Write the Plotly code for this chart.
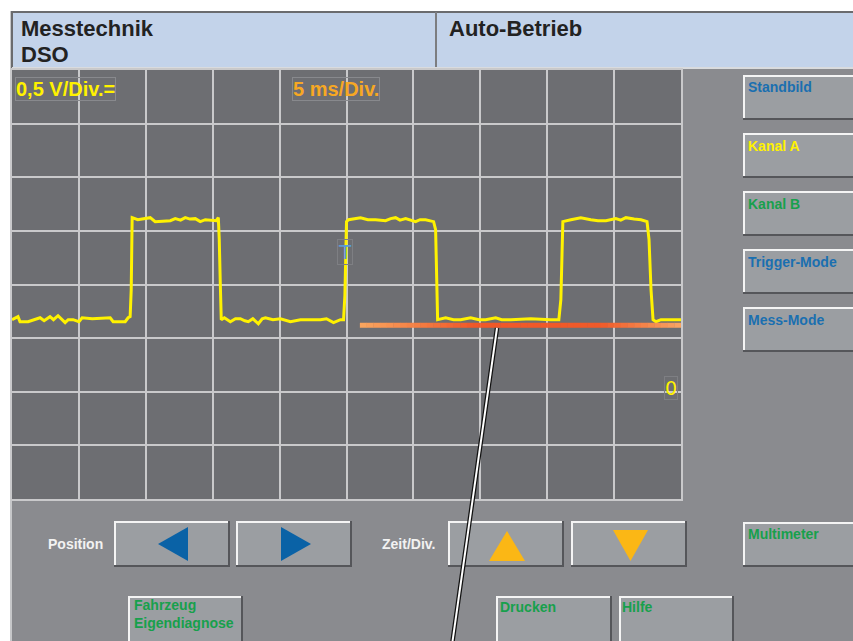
"""DSO screen (Messtechnik / Auto-Betrieb) rebuilt with Plotly."""
import plotly.graph_objects as go

W, H = 853, 641

# Kanal A: time in ms, voltage in V
time_ms = [
    0.00, 0.45, 0.60, 1.20, 2.10, 2.40, 2.84, 3.10, 3.44, 3.70, 3.97, 4.20, 4.57,
    5.00, 5.24, 6.00, 7.34, 7.56, 8.46, 8.68, 8.83, 8.91, 8.98, 9.40, 9.81, 10.33,
    10.70, 11.30, 11.83, 12.20, 12.60, 12.95, 13.30, 13.70, 14.07, 14.45, 14.90,
    15.27, 15.42, 15.49, 15.57, 15.64, 15.87, 16.32, 16.70, 17.07, 17.40, 17.66,
    18.00, 18.41, 18.70, 18.94, 19.50, 20.06, 20.81, 21.56, 23.05, 23.50, 24.03,
    24.55, 24.78, 24.88, 25.00, 25.15, 26.05, 26.60, 27.17, 27.92, 28.30, 28.67,
    29.00, 29.42, 30.16, 30.50, 30.91, 31.51, 31.66, 31.74, 31.81, 32.41, 33.00,
    33.53, 34.28, 34.90, 35.40, 36.15, 36.60, 37.28, 38.77, 40.27, 40.87, 41.02,
    41.17, 41.77, 42.51, 43.26, 43.80, 44.39, 45.13, 45.50, 45.88, 46.50, 47.01,
    47.46, 47.61, 47.76, 47.91, 48.13, 48.50, 50.00,
]
kanal_a_v = [
    0.672, 0.700, 0.653, 0.653, 0.690, 0.662, 0.700, 0.672, 0.709, 0.672, 0.644, 0.672, 0.672,
    0.653, 0.690, 0.681, 0.690, 0.653, 0.653, 0.690, 0.700, 0.951, 1.623, 1.604, 1.614, 1.623,
    1.586, 1.590, 1.595, 1.614, 1.600, 1.623, 1.610, 1.614, 1.586, 1.604, 1.600,
    1.595, 1.623, 1.418, 0.998, 0.672, 0.690, 0.653, 0.681, 0.681, 0.662, 0.653,
    0.681, 0.634, 0.681, 0.690, 0.672, 0.681, 0.653, 0.672, 0.672, 0.681, 0.644,
    0.672, 0.672, 0.900, 1.586, 1.604, 1.623, 1.604, 1.604, 1.595, 1.614, 1.623,
    1.600, 1.614, 1.586, 1.604, 1.604, 1.586, 1.511, 0.998, 0.672, 0.690, 0.672,
    0.672, 0.690, 0.672, 0.672, 0.690, 0.672, 0.672, 0.681, 0.672, 0.672, 0.858,
    1.586, 1.604, 1.623, 1.604, 1.595, 1.595, 1.614, 1.600, 1.623, 1.610, 1.604,
    1.586, 1.418, 0.951, 0.672, 0.653, 0.672, 0.672,
]

x_range_ms = [0, 50]
y_range_v = [-1.0, 3.0]
ms_per_div = 5
v_per_div = 0.5

trigger_level_v = 0.62
trigger_from_ms = 26.0
trigger_mark_ms, trigger_mark_v = 25.0, 1.30

header_left = ["Messtechnik", "DSO"]
header_right = "Auto-Betrieb"
volt_label = "0,5 V/Div.="
time_label = "5 ms/Div."
side_buttons = ["Standbild", "Kanal A", "Kanal B", "Trigger-Mode", "Mess-Mode"]

FONT = "Liberation Sans, Arial, sans-serif"
BODY = "#8a8b8f"
SCREEN = "#6d6e72"
GRID = "#c9c9cb"
BTN = "#9b9ea2"
HEADER = "#c3d3ea"
BLUE = "#1a6fb0"
GREEN = "#17a04c"
YELLOW = "#fff200"
ORANGE = "#f7a823"
side_colors = [BLUE, YELLOW, GREEN, BLUE, BLUE]


# window pixels -> paper fractions
def X(px):
    return px / W


def Y(py):
    return 1 - py / H


shapes = []
annotations = []


def rect(x0, y0, x1, y1, fill, layer="below"):
    shapes.append(dict(type="rect", xref="paper", yref="paper", x0=X(x0), x1=X(x1),
                       y0=Y(y1), y1=Y(y0), fillcolor=fill, line=dict(width=0), layer=layer))


def seg(x0, y0, x1, y1, color, width, layer="below"):
    shapes.append(dict(type="line", xref="paper", yref="paper", x0=X(x0), y0=Y(y0),
                       x1=X(x1), y1=Y(y1), line=dict(color=color, width=width), layer=layer))


def button(x0, y0, x1, y1):
    rect(x0, y0, x1, y1, BTN)
    seg(x0, y0 + 1, x1, y0 + 1, "#f4f4f4", 2)
    seg(x0 + 1, y0, x0 + 1, y1, "#f4f4f4", 2)
    seg(x0, y1 - 1, x1, y1 - 1, "#55565a", 2)
    seg(x1 - 1, y0, x1 - 1, y1, "#55565a", 2)


def tri(points, color):
    path = "M " + " L ".join(f"{X(a):.5f},{Y(b):.5f}" for a, b in points) + " Z"
    shapes.append(dict(type="path", xref="paper", yref="paper", path=path,
                       fillcolor=color, line=dict(width=0), layer="below"))


def text(x, y, s, color, size, bold=True, box=None, family=FONT):
    annotations.append(dict(
        xref="paper", yref="paper", x=X(x), y=Y(y), text=f"<b>{s}</b>" if bold else s,
        showarrow=False, xanchor="left", yanchor="middle", align="left",
        font=dict(family=family, size=size, color=color),
        bordercolor=box or "rgba(0,0,0,0)", borderwidth=1, borderpad=0,
    ))


# page frame and header
rect(0, 0, W, 11, "white")
rect(0, 0, 10, H, "white")
seg(11, 11, 11, H, "#c6c7c9", 2)
rect(12, 12, W, 68, HEADER)
seg(11, 12, W, 12, "#6a6b6e", 2)
seg(12, 12, 12, 68, "#6a6b6e", 2)
seg(436, 12, 436, 68, "#7c7d80", 2)
seg(12, 68, W, 68, "#d9dbde", 2)
text(20, 28.5, header_left[0], "#222222", 22)
text(20, 54.5, header_left[1], "#222222", 22)
text(448, 28.5, header_right, "#222222", 22)

# right-hand buttons
for i, (name, col) in enumerate(zip(side_buttons, side_colors)):
    top = 75 + i * 58
    button(743, top, 856, top + 45)
    text(747, top + 12.5, name, col, 14)
button(743, 522, 856, 567)
text(747, 534, "Multimeter", GREEN, 14)

# position / time buttons
text(47, 543.5, "Position", "#f2f2f2", 14)
button(114, 521, 230, 567)
button(236, 521, 352, 567)
tri([(158, 544), (188, 527), (188, 561)], "#0a62a6")
tri([(311, 544), (281, 527), (281, 561)], "#0a62a6")
text(381, 543.5, "Zeit/Div.", "#f2f2f2", 14)
button(448, 521, 564, 567)
button(571, 521, 687, 567)
tri([(507, 531), (489, 561), (525, 561)], "#fbb715")
tri([(613, 530), (648, 530), (630.5, 561)], "#fbb715")

# bottom row
button(128, 596, 243, 645)
text(133, 614, "Fahrzeug<br>Eigendiagnose", GREEN, 14)
button(496, 596, 612, 645)
text(499, 606.5, "Drucken", GREEN, 14)
button(619, 596, 734, 645)
text(621, 606.5, "Hilfe", GREEN, 14)

# scale readouts on the screen
text(15, 89, volt_label, YELLOW, 20, box="#88898d")
text(292, 89, time_label, ORANGE, 20, box="#88898d")

# trigger level bar with an orange gradient
stops = [(0.0, (248, 166, 96)), (0.35, (240, 88, 40)), (0.75, (240, 90, 42)), (1.0, (248, 166, 100))]


def grad(f):
    for (f0, c0), (f1, c1) in zip(stops, stops[1:]):
        if f <= f1:
            k = (f - f0) / (f1 - f0)
            return "rgb({},{},{})".format(*[round(a + (b - a) * k) for a, b in zip(c0, c1)])
    return "rgb({},{},{})".format(*stops[-1][1])


n_seg = 48
span = x_range_ms[1] - trigger_from_ms
for i in range(n_seg):
    t0 = trigger_from_ms + span * i / n_seg
    t1 = trigger_from_ms + span * (i + 1.05) / n_seg
    shapes.append(dict(type="line", xref="x", yref="y", x0=t0, x1=min(t1, x_range_ms[1]),
                       y0=trigger_level_v, y1=trigger_level_v,
                       line=dict(color=grad((i + 0.5) / n_seg), width=5), layer="above"))

# callout pointer
seg(497, 328, 452, 645, "#111111", 4.5, layer="above")
seg(497, 328, 452, 645, "#ffffff", 2, layer="above")

# trigger "T" and ground "0" markers
annotations.append(dict(xref="x", yref="y", x=trigger_mark_ms, y=trigger_mark_v, text="T",
                        showarrow=False, xanchor="center", yanchor="middle", xshift=-2,
                        font=dict(family="DejaVu Sans", size=20, color="#5b9bd5"),
                        bordercolor="#7e7f83", borderwidth=1, borderpad=0))
annotations.append(dict(xref="x", yref="y", x=x_range_ms[1], y=0, text="0",
                        showarrow=False, xanchor="right", yanchor="middle", xshift=-3, yshift=4,
                        font=dict(family="DejaVu Sans", size=19, color=YELLOW),
                        bordercolor="#7e7f83", borderwidth=1, borderpad=0))

fig = go.Figure()
fig.add_trace(go.Scatter(x=time_ms, y=kanal_a_v, mode="lines",
                         line=dict(color=YELLOW, width=3), hoverinfo="skip"))

axis_common = dict(showgrid=True, gridcolor=GRID, gridwidth=2, zeroline=False,
                   showticklabels=False, ticks="", showline=True, mirror=True,
                   linecolor=GRID, linewidth=2, fixedrange=True)
fig.update_xaxes(range=x_range_ms, dtick=ms_per_div, domain=[X(12), X(681)], **axis_common)
fig.update_yaxes(range=y_range_v, dtick=v_per_div, domain=[Y(499), Y(70)], **axis_common)

fig.update_layout(
    width=W, height=H, margin=dict(l=0, r=0, t=0, b=0),
    paper_bgcolor=BODY, plot_bgcolor=SCREEN, showlegend=False,
    shapes=shapes, annotations=annotations,
)
# drop the browser's default body margin so the figure fills the window exactly
fig.write_html("out.html", config={"displayModeBar": False},
               post_script="document.body.style.margin='0';document.body.style.overflow='hidden';")
